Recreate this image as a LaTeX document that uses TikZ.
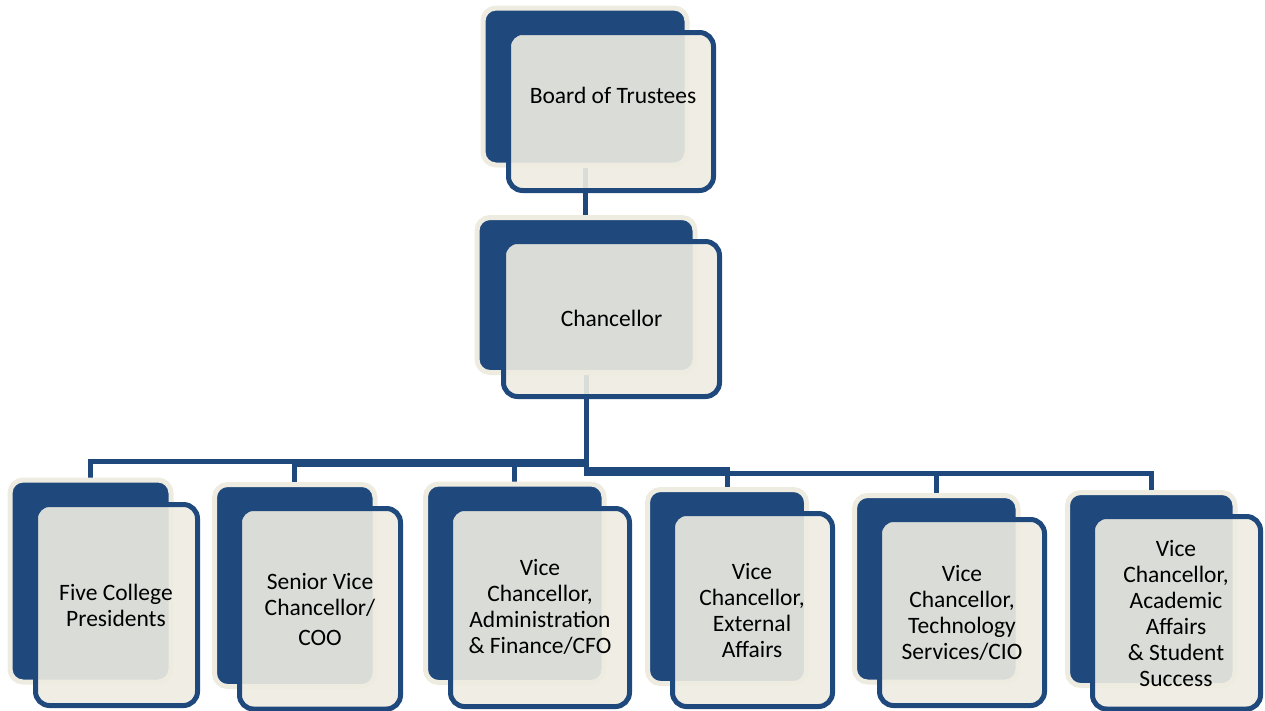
\documentclass[tikz,border=0pt]{standalone}
\usepackage{fontspec}
\setmainfont{Carlito}
\usetikzlibrary{backgrounds}
\definecolor{navy}{HTML}{1F497D}
\definecolor{cream}{HTML}{EEECE1}
\begin{document}
\begin{tikzpicture}[x=1pt,y=-1pt,
  backbox/.style={rectangle, rounded corners=13pt, fill=navy, draw=cream, line width=5pt, inner sep=0pt},
  frontbox/.style={rectangle, rounded corners=14pt, fill=cream, fill opacity=0.9, draw=navy, line width=5pt, inner sep=0pt},
  boxtext/.style={align=center, font=\fontsize{23.5}{26}\selectfont, text=black, inner sep=0pt},
  link/.style={draw=navy, line width=5pt}]
\useasboundingbox (0,0) rectangle (1265,710);

% back boxes
\node[backbox, minimum width=204pt, minimum height=157pt] (bb0) at (585,86.5) {};
\node[backbox, minimum width=218pt, minimum height=155pt] (cb) at (586,295) {};
\node[backbox, minimum width=161pt, minimum height=202pt] (b1) at (90.5,581) {};
\node[backbox, minimum width=160.5pt, minimum height=202pt] (b2) at (294.75,585.5) {};
\node[backbox, minimum width=178.5pt, minimum height=198.5pt] (b3) at (514.75,583.25) {};
\node[backbox, minimum width=159pt, minimum height=194pt] (b4) at (727,586.5) {};
\node[backbox, minimum width=163.5pt, minimum height=186.5pt] (b5) at (936.25,588.75) {};
\node[backbox, minimum width=167.5pt, minimum height=193pt] (b6) at (1151.25,589) {};

% connectors (behind all boxes)
\begin{pgfonlayer}{background}
\draw[link] (bb0.south) -- (bb0.south |- cb.north);
\draw[link] (cb.south) -- ++(0,86) -| (b1.north);
\draw[link] (cb.south) -- ++(0,89.5) -| (b2.north);
\draw[link] (cb.south) -- ++(0,89.5) -| (b3.north);
\draw[link] (cb.south) -- ++(0,94.5) -| (b4.north);
\draw[link] (cb.south) -- ++(0,98.5) -| (b5.north);
\draw[link] (cb.south) -- ++(0,98.5) -| (b6.north);
\end{pgfonlayer}

% front boxes
\node[frontbox, minimum width=205pt, minimum height=158pt] (fb0) at (611,111.5) {};
\node[frontbox, minimum width=216pt, minimum height=155pt] (fc) at (611.5,319) {};
\node[frontbox, minimum width=162pt, minimum height=201pt] (f1) at (116.5,605) {};
\node[frontbox, minimum width=161pt, minimum height=200.5pt] (f2) at (320,608.75) {};
\node[frontbox, minimum width=179pt, minimum height=198pt] (f3) at (540,607.5) {};
\node[frontbox, minimum width=160pt, minimum height=193pt] (f4) at (752.5,610) {};
\node[frontbox, minimum width=165pt, minimum height=186pt] (f5) at (962,612.5) {};
\node[frontbox, minimum width=168pt, minimum height=192.5pt] (f6) at (1176.5,612.75) {};

% texts
\node[boxtext] (t0) at (613,95) {Board of Trustees};
\node[boxtext] (tc) at (611.5,318) {Chancellor};
\node[boxtext] (t1) at (116,605) {Five College\\Presidents};
\node[boxtext] (t2) at (320,609) {Senior Vice\\Chancellor/\\[4pt]COO};
\node[boxtext] (t3) at (540,607) {Vice\\Chancellor,\\Administration\\\& Finance/CFO};
\node[boxtext] (t4) at (752,610) {Vice\\Chancellor,\\External\\Affairs};
\node[boxtext] (t5) at (962,612.5) {Vice\\Chancellor,\\Technology\\Services/CIO};
\node[boxtext] (t6) at (1176,613.5) {Vice\\Chancellor,\\Academic\\Affairs\\\& Student\\Success};
\end{tikzpicture}
\end{document}
